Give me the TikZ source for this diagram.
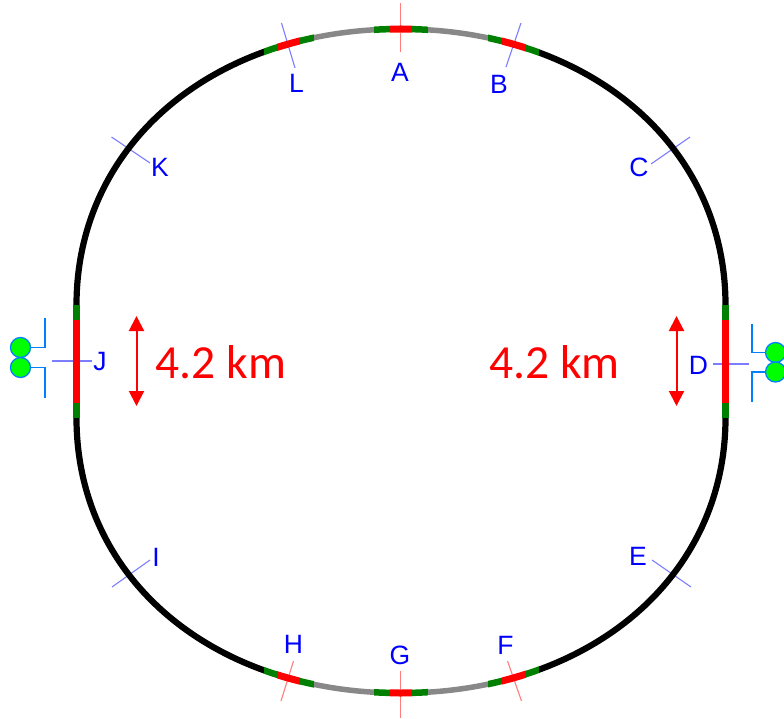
\documentclass[tikz,border=0pt]{standalone}
\usepackage{fontspec}
\setmainfont{Liberation Sans}
\newfontfamily\kmfont{Carlito}
\usetikzlibrary{arrows.meta}
\definecolor{ringgreen}{RGB}{0,128,0}
\definecolor{ringgrey}{RGB}{136,136,136}
\definecolor{labelblue}{RGB}{0,0,255}
\definecolor{tickblue}{RGB}{125,125,255}
\definecolor{tickred}{RGB}{255,125,125}
\definecolor{solblue}{RGB}{0,128,255}
\newcommand{\ringpath}{(76.5,305) .. controls (76.5,145) and (212,29) .. (400.5,29) .. controls (589,29) and (725.5,145) .. (725.5,305) -- (725.5,418) .. controls (725.5,578) and (589,693) .. (400.5,693) .. controls (212,693) and (76.5,578) .. (76.5,418) -- cycle}
\begin{document}
\begin{tikzpicture}[x=1pt,y=-1pt,
  lab/.style={text=labelblue,font=\fontsize{26.5}{30}\selectfont,inner sep=0pt},
  kmlab/.style={text=red,font=\kmfont\fontsize{47.5}{52}\selectfont,inner sep=0pt},
  sol/.style={circle,draw=solblue,fill=green,line width=1.3pt,inner sep=0pt,minimum size=20pt},
  solline/.style={solblue,line width=1.8pt},
  kmarrow/.style={red,line width=2pt,{Triangle[width=15pt,length=15pt]}-{Triangle[width=15pt,length=15pt]}}]
\useasboundingbox (0,0) rectangle (784,719);
\foreach \t/\xa/\ya/\xb/\yb/\col in {A/400.5/3/400.5/52/tickred,L/281.5/23/295/68/tickblue,B/521/23/506/67/tickblue,C/690/137/651/164/tickblue,D/713/364/749/364/tickblue,E/652/560/691/587/tickblue,F/507.5/661/521.5/701/tickred,G/400.5/671/400.5/718/tickred,H/293.5/661/281/701/tickred,I/150/560/112/587/tickblue,J/52/361/92/361/tickblue,K/111.5/137/150/163/tickblue} {
  \coordinate (t\t a) at (\xa,\ya);
  \coordinate (t\t b) at (\xb,\yb);
  \draw[\col,line width=1.1pt] (t\t a)--(t\t b);
}
\foreach \ya/\yb in {0/305,305/719} {
  \foreach \xa/\xb/\col/\w in {0/264/black/6.2,264/277/ringgreen/6.5,277/300/red/7,300/314/ringgreen/6.5,314/374/ringgrey/5.5,374/390/ringgreen/6.5,390/412/red/7,412/428/ringgreen/6.5,428/488/ringgrey/5.5,488/502/ringgreen/6.5,502/526/red/7,526/539/ringgreen/6.5,539/784/black/6.2} {
    \begin{scope}
    \clip (\xa,\ya) rectangle (\xb,\yb);
    \draw[\col,line width=\w pt] \ringpath;
    \end{scope}
  }
}
\foreach \x in {76.5,725.5} {
  \draw[ringgreen,line width=7pt] (\x,305)--(\x,418);
  \draw[red,line width=7pt] (\x,320)--(\x,403);
}
\node[lab] (lA) at (400,72.5) {A};
\node[lab] (lB) at (499,84) {B};
\node[lab] (lC) at (639,167) {C};
\node[lab] (lD) at (698.5,365) {D};
\node[lab] (lE) at (638,556) {E};
\node[lab] (lF) at (505.5,645.5) {F};
\node[lab] (lG) at (400,655) {G};
\node[lab] (lH) at (293.5,644) {H};
\node[lab] (lI) at (156,557) {I};
\node[lab] (lJ) at (100,362) {J};
\node[lab] (lK) at (160,167) {K};
\node[lab] (lL) at (296.5,83) {L};
\node[kmlab] (kmleft) at (221,362) {4.2 km};
\node[kmlab] (kmright) at (554.5,362) {4.2 km};
\coordinate (aleftt) at (136.5,316);
\coordinate (aleftb) at (136.5,406);
\coordinate (arightt) at (676.5,316);
\coordinate (arightb) at (676.5,406);
\draw[kmarrow] (aleftt)--(aleftb);
\draw[kmarrow] (arightt)--(arightb);
\node[sol] (j1) at (20.5,347.5) {};
\node[sol] (j2) at (20.5,367.5) {};
\node[sol] (d1) at (775.5,352.5) {};
\node[sol] (d2) at (775.5,372) {};
\coordinate (jt) at (45,318);
\coordinate (jb) at (45,397.5);
\coordinate (dt) at (752,323.5);
\coordinate (db) at (752,401.5);
\draw[solline] (j1) -| (jt);
\draw[solline] (j2) -| (jb);
\draw[solline] (d1) -| (dt);
\draw[solline] (d2) -| (db);
\end{tikzpicture}
\end{document}
